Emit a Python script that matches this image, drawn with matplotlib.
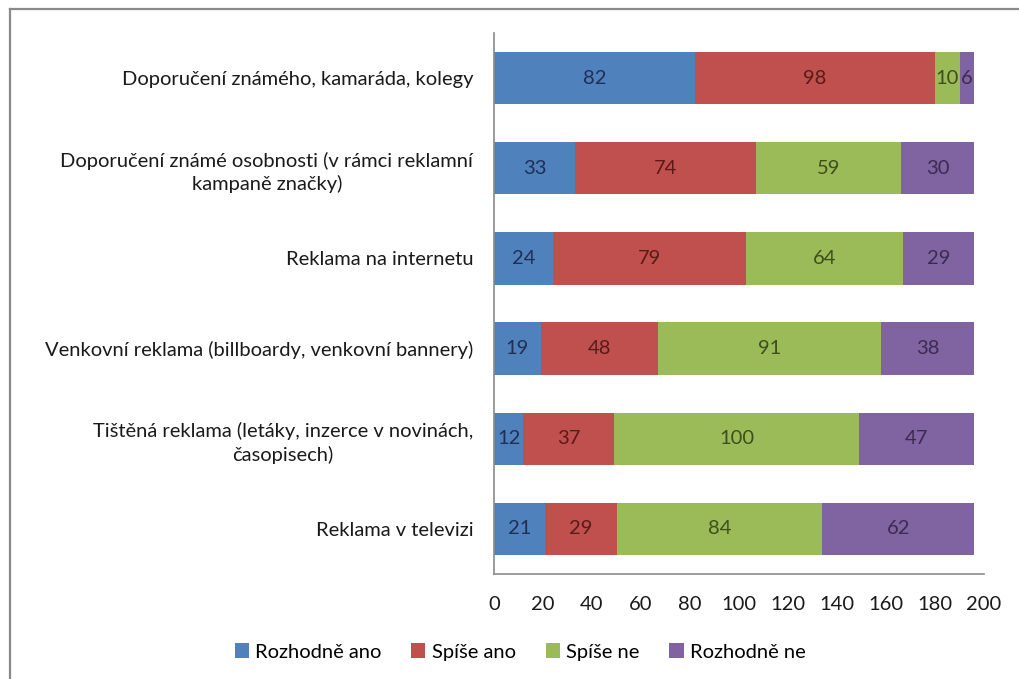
import matplotlib
matplotlib.use("Agg")
import matplotlib.pyplot as plt
from matplotlib.lines import Line2D
import numpy as np

plt.rcParams['font.family'] = ['Lato', 'DejaVu Sans']

categories = [
    "Doporučení známého, kamaráda, kolegy",
    "Doporučení známé osobnosti (v rámci reklamní\nkampaně značky)",
    "Reklama na internetu",
    "Venkovní reklama (billboardy, venkovní bannery)",
    "Tištěná reklama (letáky, inzerce v novinách,\nčasopisech)",
    "Reklama v televizi",
]
series_names = ["Rozhodně ano", "Spíše ano", "Spíše ne", "Rozhodně ne"]
rozhodne_ano = [82, 33, 24, 19, 12, 21]
spise_ano = [98, 74, 79, 48, 37, 29]
spise_ne = [10, 59, 64, 91, 100, 84]
rozhodne_ne = [6, 30, 29, 38, 47, 62]
x_ticks = [0, 20, 40, 60, 80, 100, 120, 140, 160, 180, 200]

fill_colors = ["#4F81BD", "#C0504D", "#9BBB59", "#8064A2"]
label_colors = ["#1F2F55", "#5A1A18", "#3E4E1C", "#3A2B50"]

FS = 14.5
W, H = 1019, 679
fig = plt.figure(figsize=(W / 100, H / 100), dpi=100)
fig.patch.set_facecolor("white")

# outer chart frame (top and left edges visible)
fig.add_artist(Line2D([10 / W, 1.0], [1 - 9 / H, 1 - 9 / H], transform=fig.transFigure,
                      color="#8a8a8a", lw=1.6))
fig.add_artist(Line2D([10 / W, 10 / W], [0.0, 1 - 9 / H], transform=fig.transFigure,
                      color="#8a8a8a", lw=1.6))

ax = fig.add_axes([494 / W, (H - 574) / H, (984 - 494) / W, (574 - 33) / H])

ypos = np.arange(len(categories))
series = [rozhodne_ano, spise_ano, spise_ne, rozhodne_ne]
left = np.zeros(len(categories))
handles = []
for vals, name, fc, lc in zip(series, series_names, fill_colors, label_colors):
    vals = np.array(vals, dtype=float)
    bars = ax.barh(ypos, vals, left=left, height=0.58, color=fc, label=name, edgecolor="none")
    handles.append(bars)
    for y, l, v in zip(ypos, left, vals):
        ax.text(l + v / 2, y, f"{int(v)}", ha="center", va="center",
                fontsize=FS, color=lc)
    left += vals

ax.set_xlim(0, 200)
ax.set_ylim(len(categories) - 0.5, -0.5)
ax.set_xticks(x_ticks)
ax.set_xticklabels([str(t) for t in x_ticks], fontsize=FS, color="#1a1a1a")
ax.set_yticks(ypos)
ax.set_yticklabels(categories, fontsize=FS, color="#1a1a1a",
                   multialignment="center", linespacing=1.35)
ax.tick_params(axis="both", length=0)
ax.tick_params(axis="y", pad=15)
ax.tick_params(axis="x", pad=16)

for side in ["top", "right"]:
    ax.spines[side].set_visible(False)
for side in ["left", "bottom"]:
    ax.spines[side].set_color("#8a8a8a")
    ax.spines[side].set_linewidth(1.2)

fig.legend(handles=handles, labels=series_names, loc="center", ncol=4,
           bbox_to_anchor=(520 / W, 1 - 652 / H), frameon=False, fontsize=FS,
           handlelength=0.7, handleheight=0.7, handletextpad=0.3, columnspacing=1.5)

fig.savefig("out.png", dpi=100, facecolor="white")
